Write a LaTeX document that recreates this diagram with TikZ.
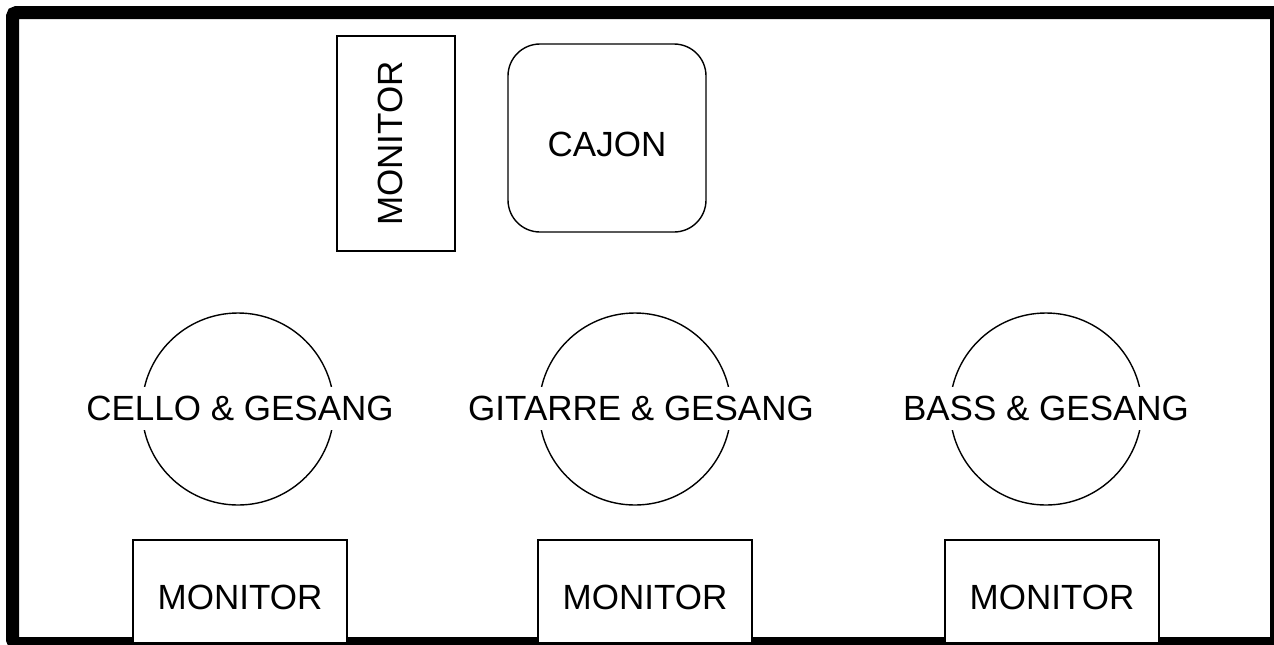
\documentclass[tikz,border=0pt]{standalone}
\usepackage{fontspec}
\setmainfont{Liberation Sans}

\begin{document}
\begin{tikzpicture}[x=0.5pt,y=-0.5pt,
  plan/.style={draw,line width=0.7pt,fill=white,inner sep=0pt,font=\fontsize{17.5}{20}\selectfont},
  monitor/.style={plan,minimum width=107pt,minimum height=51.5pt,text height=18.5pt},
  player/.style={draw,line width=0.7pt,circle,minimum size=96pt,inner sep=0pt},
  playername/.style={fill=white,inner xsep=1pt,inner ysep=4.5pt,font=\fontsize{17.5}{20}\selectfont}]
\useasboundingbox (0,0) rectangle (1274,644);
\clip (0,0) rectangle (1274,644);

% stage
\draw[line width=6.5pt,rounded corners=2pt] (12.5,12.5) rectangle (1276.5,643.5);

% back line
\node[plan,rotate=90,minimum width=107.5pt,minimum height=59pt,text height=12.5pt,text depth=6pt] (sidemon) at (396,143.5) {MONITOR};
\node[plan,rounded corners=16pt,minimum width=99pt,minimum height=94pt,text height=18.5pt] (cajon) at (607,138) {CAJON};

% players
\node[player] (cello) at (238,409) {};
\node[player] (gitarre) at (635,409) {};
\node[player] (bass) at (1046,409) {};
\node[playername] (cellotxt) at (240,408.5) {CELLO \& GESANG};
\node[playername] (gitarretxt) at (641,408.5) {GITARRE \& GESANG};
\node[playername] (basstxt) at (1046,408.5) {BASS \& GESANG};

% front monitors
\node[monitor] (mon1) at (240,591.5) {MONITOR};
\node[monitor] (mon2) at (645,591.5) {MONITOR};
\node[monitor] (mon3) at (1052,591.5) {MONITOR};
\end{tikzpicture}
\end{document}
